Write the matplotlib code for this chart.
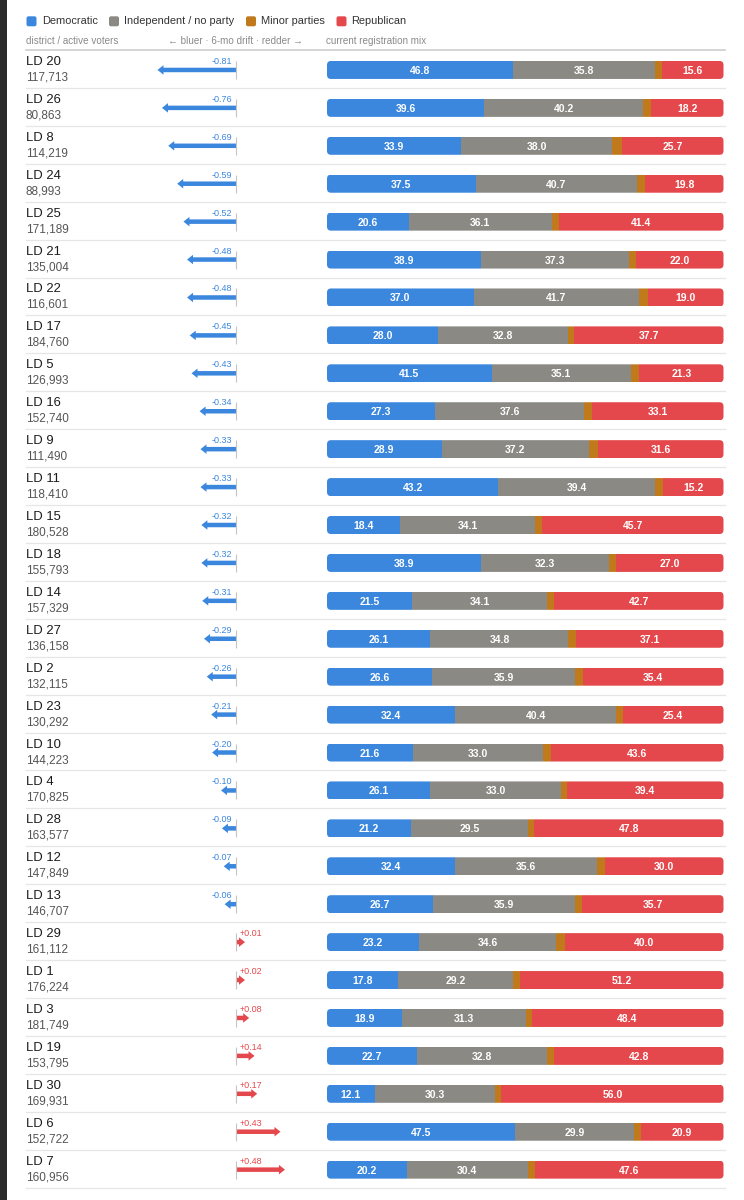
import matplotlib
matplotlib.use("Agg")
import matplotlib.pyplot as plt
from matplotlib.patches import FancyBboxPatch, Rectangle

plt.rcParams['font.family'] = ['Liberation Sans', 'DejaVu Sans']

# ---- data ----
districts = ['LD 20', 'LD 26', 'LD 8', 'LD 24', 'LD 25', 'LD 21', 'LD 22', 'LD 17',
             'LD 5', 'LD 16', 'LD 9', 'LD 11', 'LD 15', 'LD 18', 'LD 14', 'LD 27',
             'LD 2', 'LD 23', 'LD 10', 'LD 4', 'LD 28', 'LD 12', 'LD 13', 'LD 29',
             'LD 1', 'LD 3', 'LD 19', 'LD 30', 'LD 6', 'LD 7']
voters = [117713, 80863, 114219, 88993, 171189, 135004, 116601, 184760,
          126993, 152740, 111490, 118410, 180528, 155793, 157329, 136158,
          132115, 130292, 144223, 170825, 163577, 147849, 146707, 161112,
          176224, 181749, 153795, 169931, 152722, 160956]
drift = [-0.81, -0.76, -0.69, -0.59, -0.52, -0.48, -0.48, -0.45,
         -0.43, -0.34, -0.33, -0.33, -0.32, -0.32, -0.31, -0.29,
         -0.26, -0.21, -0.20, -0.10, -0.09, -0.07, -0.06, 0.01,
         0.02, 0.08, 0.14, 0.17, 0.43, 0.48]
dem = [46.8, 39.6, 33.9, 37.5, 20.6, 38.9, 37.0, 28.0, 41.5, 27.3, 28.9, 43.2,
       18.4, 38.9, 21.5, 26.1, 26.6, 32.4, 21.6, 26.1, 21.2, 32.4, 26.7, 23.2,
       17.8, 18.9, 22.7, 12.1, 47.5, 20.2]
ind = [35.8, 40.2, 38.0, 40.7, 36.1, 37.3, 41.7, 32.8, 35.1, 37.6, 37.2, 39.4,
       34.1, 32.3, 34.1, 34.8, 35.9, 40.4, 33.0, 33.0, 29.5, 35.6, 35.9, 34.6,
       29.2, 31.3, 32.8, 30.3, 29.9, 30.4]
minor = [1.8, 2.0, 2.4, 2.0, 1.9, 1.8, 2.3, 1.5, 2.1, 2.0, 2.3, 2.2,
         1.8, 1.8, 1.7, 2.0, 2.1, 1.8, 1.8, 1.5, 1.5, 2.0, 1.7, 2.2,
         1.8, 1.4, 1.7, 1.6, 1.7, 1.8]
rep = [15.6, 18.2, 25.7, 19.8, 41.4, 22.0, 19.0, 37.7, 21.3, 33.1, 31.6, 15.2,
       45.7, 27.0, 42.7, 37.1, 35.4, 25.4, 43.6, 39.4, 47.8, 30.0, 35.7, 40.0,
       51.2, 48.4, 42.8, 56.0, 20.9, 47.6]

parties = ['Democratic', 'Independent / no party', 'Minor parties', 'Republican']
DEM, IND, MIN, REP = '#3b87de', '#8a8984', '#c07a1c', '#e4484c'
colors = [DEM, IND, MIN, REP]

# ---- layout (pixels) ----
W, H = 744, 1200
top, bot = 50, 1187.6
n = len(districts)
rowh = (bot - top) / n
upx = 1 / rowh  # row units per pixel

fig = plt.figure(figsize=(W / 100, H / 100), dpi=100)
fig.patch.set_facecolor('white')


def fx(px):
    return px / W


def fy(py):
    return 1 - py / H


def add_ax(x0, x1):
    ax = fig.add_axes([fx(x0), fy(bot), (x1 - x0) / W, (bot - top) / H])
    ax.set_ylim(n, 0)
    ax.axis('off')
    return ax


# background: separators + names
ax_bg = add_ax(26, 725)
ax_bg.set_xlim(0, 1)
for k in range(n + 1):
    if k == 0:
        ax_bg.axhline(k, color='#d2d2d2', lw=1.3, clip_on=False)
    else:
        ax_bg.axhline(k, color='#e6e6e6', lw=0.9, clip_on=False)
for i, (name, nv) in enumerate(zip(districts, voters)):
    yc = i + 0.5
    ax_bg.text(0, yc - 7 * upx, name, fontsize=9.4, color='#1b1b1b',
               ha='left', va='center')
    ax_bg.text(0, yc + 8.5 * upx, f"{nv:,}", fontsize=8.5, color='#555555',
               ha='left', va='center')

# drift arrows
scale = 89.5  # px per unit of drift
ax_d = add_ax(120, 320)
ax_d.set_xlim(-(236 - 120) / scale, (320 - 236) / scale)
for i, v in enumerate(drift):
    yc = i + 0.5 + 1 * upx
    c = DEM if v < 0 else REP
    sgn = -1 if v < 0 else 1
    shaft = sgn * max(abs(v), 3 / scale)
    ax_d.vlines(0, yc - 9 * upx, yc + 9 * upx, color='#c4c4c4', lw=0.8)
    ax_d.arrow(0, yc, shaft, 0, width=4.5 * upx, head_width=9.5 * upx,
               head_length=6 / scale, length_includes_head=False,
               color=c, lw=0)
    off = 4 / scale
    ax_d.text(sgn * off, yc - 8.5 * upx, f"{v:+.2f}",
              ha='right' if v < 0 else 'left', va='center',
              fontsize=6.5, color=c)

# registration mix
ax_m = add_ax(327, 723.5)
ax_m.set_xlim(0, 100)
xpp = 100 / (723.5 - 327)
bar_h = 18 * upx
for i in range(n):
    yc = i + 0.5 + 1 * upx
    vals = [dem[i], ind[i], minor[i], rep[i]]
    total = sum(vals)
    clip = FancyBboxPatch((0, yc - bar_h / 2), total, bar_h,
                          boxstyle=f"round,pad=0,rounding_size={4 * xpp}",
                          mutation_aspect=upx / xpp,
                          facecolor='none', edgecolor='none',
                          transform=ax_m.transData)
    ax_m.add_patch(clip)
    left = 0
    for j, val in enumerate(vals):
        bars = ax_m.barh(yc, val, left=left, height=bar_h, color=colors[j],
                         linewidth=0)
        for b in bars:
            b.set_clip_path(clip)
        if j != 2:
            ax_m.text(left + val / 2, yc, f"{val:.1f}", ha='center',
                      va='center_baseline', fontsize=7.5, color='white',
                      fontweight='bold')
        left += val

# headers
hdr = dict(fontsize=7.1, color='#8a8a8a', va='center')
fig.text(fx(26), fy(41), 'district / active voters', ha='left', **hdr)
fig.text(fx(236), fy(41), '\u2190 bluer \u00b7 6-mo drift \u00b7 redder \u2192',
         ha='center', **hdr)
fig.text(fx(326), fy(41), 'current registration mix', ha='left', **hdr)

# legend
sq_x = [26.5, 109, 246, 336.5]
txt_x = [41.7, 124, 260.7, 351]
ly = 21.3
sq = 10
for label, c, sx, tx in zip(parties, colors, sq_x, txt_x):
    p = FancyBboxPatch((sx / 100, (H - ly - sq / 2) / 100), sq / 100, sq / 100,
                       boxstyle="round,pad=0,rounding_size=0.02",
                       facecolor=c, edgecolor='none',
                       transform=fig.dpi_scale_trans)
    fig.patches.append(p)
    fig.text(fx(tx), fy(ly), label, fontsize=7.9, color='#333333',
             ha='left', va='center')

# dark strip on the left edge of the screenshot
fig.patches.append(Rectangle((0, 0), fx(7), 1, transform=fig.transFigure,
                             facecolor='#2a2a2a', edgecolor='none'))

fig.savefig('out.png', dpi=100)
